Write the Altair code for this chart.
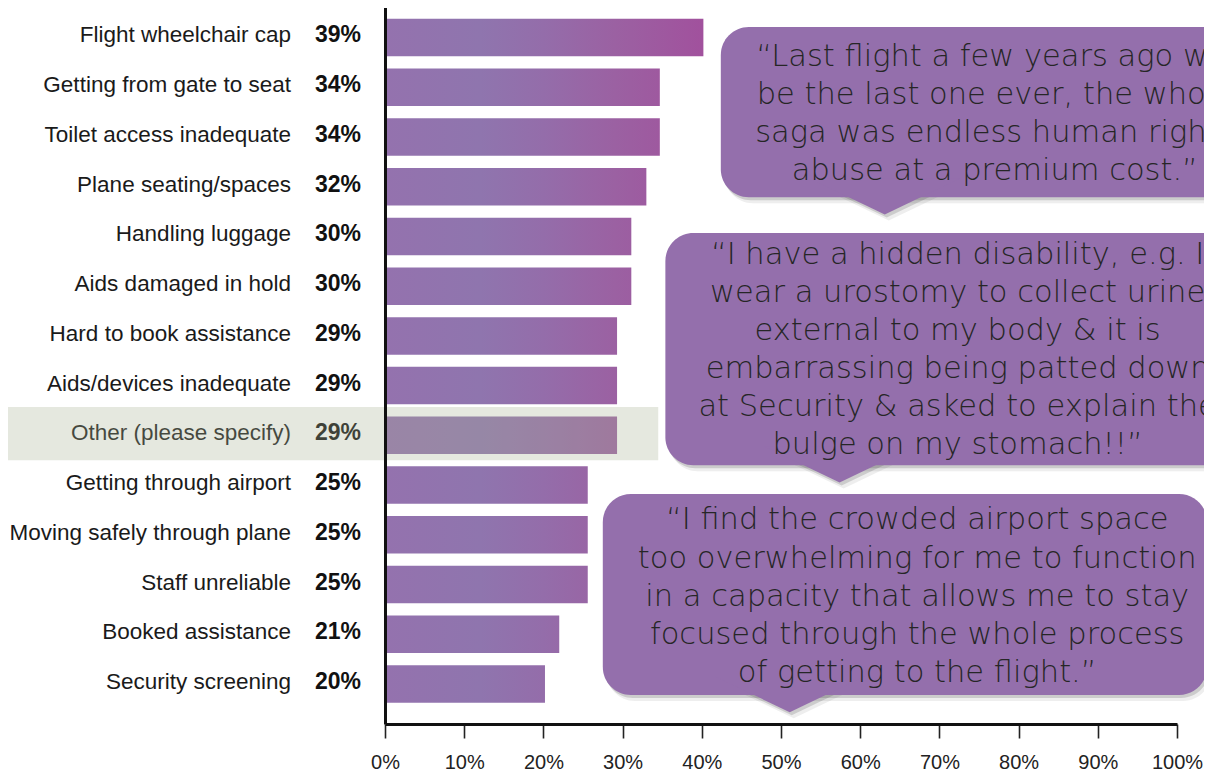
import altair as alt
import pandas as pd

# ---------------- data ----------------
categories = [
    "Flight wheelchair cap", "Getting from gate to seat", "Toilet access inadequate",
    "Plane seating/spaces", "Handling luggage", "Aids damaged in hold",
    "Hard to book assistance", "Aids/devices inadequate", "Other (please specify)",
    "Getting through airport", "Moving safely through plane", "Staff unreliable",
    "Booked assistance", "Security screening",
]
bar_values = [40.2, 34.7, 34.7, 33.0, 31.1, 31.1, 29.3, 29.3, 29.3, 25.6, 25.6, 25.6, 22.0, 20.2]
pct_labels = ["39%", "34%", "34%", "32%", "30%", "30%", "29%", "29%", "29%",
              "25%", "25%", "25%", "21%", "20%"]
x_tick_values = [0, 10, 20, 30, 40, 50, 60, 70, 80, 90, 100]

# highlighted row band (x in %, y in row units)
highlight_x = [-60, 34.5]
highlight_y = [7.43, 8.50]

# speech bubbles (x in %, y in row units)
bubble_left = [42.4, 35.4, 27.5]
bubble_right = [112.0, 112.0, 103.8]
bubble_top = [-0.21, 3.93, 9.18]
bubble_bottom = [3.21, 8.60, 13.22]
bubble_tail_x = [63.1, 57.4, 51.1]
quote_center_x = [77.0, 72.3, 67.2]
quote_lines = [
    ["\u201cLast flight a few years ago will", "be the last one ever, the whole",
     "saga was endless human rights", "abuse at a premium cost.\u201d"],
    ["\u201cI have a hidden disability, e.g. I", "wear a urostomy to collect urine",
     "external to my body & it is", "embarrassing being patted down",
     "at Security & asked to explain the", "bulge on my stomach!!\u201d"],
    ["\u201cI find the crowded airport space", "too overwhelming for me to function",
     "in a capacity that allows me to stay", "focused through the whole process",
     "of getting to the flight.\u201d"],
]
quote_line_y = [
    [0.570, 1.338, 2.106, 2.874],
    [4.555, 5.319, 6.083, 6.847, 7.611, 8.375],
    [9.890, 10.658, 11.426, 12.194, 12.962],
]

# ---------------- styling ----------------
PURPLE = "#946FAC"
TEXT_DARK = "#262626"
grad_pos = [0, 12, 20, 29, 40.2]
grad_col = ["#9472AE", "#8F75AE", "#946DAA", "#9B61A2", "#A1519D"]


def _rgb(h):
    h = h.lstrip("#")
    return [int(h[i:i + 2], 16) for i in (0, 2, 4)]


def color_at(p):
    for i in range(len(grad_pos) - 1):
        a, b = grad_pos[i], grad_pos[i + 1]
        if p <= b:
            t = (p - a) / (b - a)
            ca, cb = _rgb(grad_col[i]), _rgb(grad_col[i + 1])
            c = [round(ca[k] + t * (cb[k] - ca[k])) for k in range(3)]
            return "#%02X%02X%02X" % tuple(c)
    return grad_col[-1]


def bar_gradient(length):
    stops = [{"offset": 0, "color": grad_col[0]}]
    for p, c in zip(grad_pos[1:], grad_col[1:]):
        if p < length:
            stops.append({"offset": p / length, "color": c})
    stops.append({"offset": 1, "color": color_at(length)})
    return {"gradient": "linear", "x1": 0, "y1": 0, "x2": 1, "y2": 0, "stops": stops}


x_scale = alt.Scale(domain=[0, 100], nice=False, zero=False, padding=0)
y_scale = alt.Scale(domain=[-0.754, 13.804], reverse=True, nice=False, zero=False, padding=0)
x_axis = alt.Axis(values=x_tick_values, labelExpr="datum.value + '%'", grid=False,
                  tickSize=14, tickWidth=1.6, tickColor="#222", domainColor="#111",
                  domainWidth=2.8, labelFont="Liberation Sans", labelFontSize=20,
                  labelColor="#222", labelPadding=14, title=None, zindex=2,
                  labelFlush=False, labelOverlap=False)
y_axis = alt.Axis(labels=False, ticks=False, grid=False, domainColor="#111",
                  domainWidth=3, title=None, zindex=2)


def X(field, **kw):
    return alt.X(field, type="quantitative", scale=x_scale, axis=x_axis, **kw)


def Y(field, **kw):
    return alt.Y(field, type="quantitative", scale=y_scale, axis=y_axis, **kw)


df = pd.DataFrame({
    "category": categories,
    "value": bar_values,
    "label": pct_labels,
    "row": list(range(len(categories))),
})

layers = []
for i in range(len(df)):
    layers.append(
        alt.Chart(df.iloc[[i]]).mark_bar(
            orient="horizontal", size=37.5, fill=bar_gradient(bar_values[i])
        ).encode(x=X("value", stack=None), y=Y("row"))
    )

layers.append(
    alt.Chart(df).mark_text(align="right", baseline="alphabetic", dy=5,
                            font="Liberation Sans", fontSize=22.5, color="#1a1a1a")
    .encode(x=alt.value(-94), y=Y("row"), text="category:N")
)
layers.append(
    alt.Chart(df).mark_text(align="right", baseline="alphabetic", dy=5,
                            font="Liberation Sans", fontSize=23, fontWeight="bold",
                            color="#111")
    .encode(x=alt.value(-24), y=Y("row"), text="label:N")
)

band_df = pd.DataFrame({"x1": [highlight_x[0]], "x2": [highlight_x[1]],
                        "y1": [highlight_y[0]], "y2": [highlight_y[1]]})
layers.append(
    alt.Chart(band_df).mark_rect(fill="#A8B296", opacity=0.3)
    .encode(x=X("x1"), x2="x2", y=Y("y1"), y2="y2")
)

bub_df = pd.DataFrame({"left": bubble_left, "right": bubble_right, "top": bubble_top,
                       "bottom": bubble_bottom, "tail": bubble_tail_x})
TAIL = "M -1 -0.25 L 1 -0.25 L 0 0.23 Z"
for dx, dy, op in [(2, 3, 0.16), (4, 6, 0.08)]:
    layers.append(
        alt.Chart(bub_df).mark_rect(cornerRadius=28, fill="#222", opacity=op,
                                    xOffset=dx, x2Offset=dx, yOffset=dy, y2Offset=dy)
        .encode(x=X("left"), x2="right", y=Y("top"), y2="bottom")
    )
    layers.append(
        alt.Chart(bub_df).mark_point(shape=TAIL, size=22500, filled=True, color="#222",
                                     opacity=op, strokeWidth=0, xOffset=dx, yOffset=dy)
        .encode(x=X("tail"), y=Y("bottom"))
    )
layers.append(
    alt.Chart(bub_df).mark_rect(cornerRadius=28, fill=PURPLE)
    .encode(x=X("left"), x2="right", y=Y("top"), y2="bottom")
)
layers.append(
    alt.Chart(bub_df).mark_point(shape=TAIL, size=22500, filled=True, color=PURPLE,
                                 opacity=1, strokeWidth=0)
    .encode(x=X("tail"), y=Y("bottom"))
)

q_rows = []
for b, lines in enumerate(quote_lines):
    for j, line in enumerate(lines):
        q_rows.append({"qx": quote_center_x[b], "qy": quote_line_y[b][j], "line": line})
q_df = pd.DataFrame(q_rows)
layers.append(
    alt.Chart(q_df).mark_text(align="center", baseline="alphabetic", font="DejaVu Sans",
                              fontSize=30.5, fontWeight=300, color=TEXT_DARK)
    .encode(x=X("qx"), y=Y("qy"), text="line:N")
)

chart = alt.layer(*layers).properties(
    width=792, height=724,
    autosize=alt.AutoSizeParams(type="none"),
    padding={"top": -8, "left": 377, "right": 27, "bottom": 49},
).configure_view(strokeWidth=0)

chart.save("out.html", embed_options={"renderer": "svg", "actions": False})
